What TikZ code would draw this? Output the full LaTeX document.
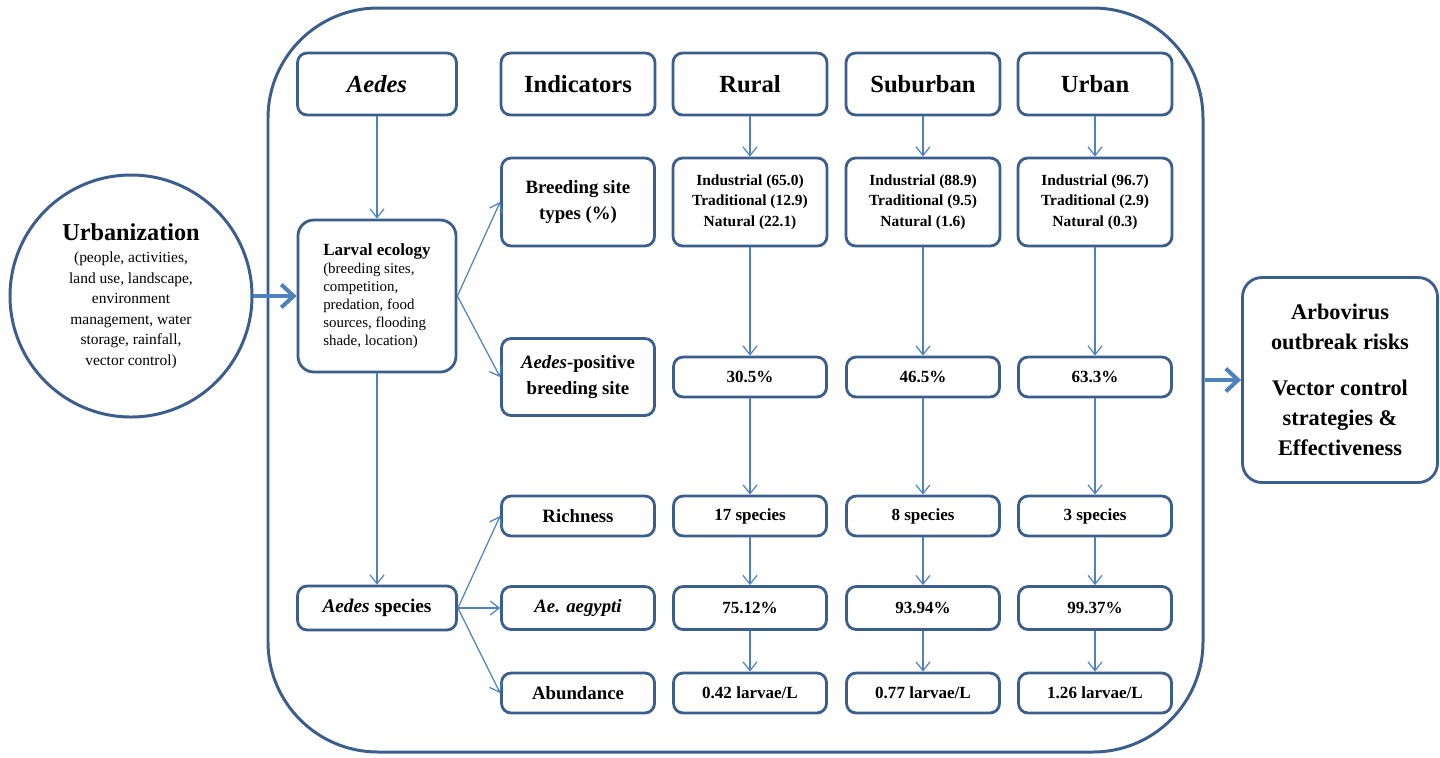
\documentclass[tikz,border=0pt]{standalone}
\usepackage{fontspec}
\setmainfont{Liberation Serif}
\usetikzlibrary{positioning, arrows.meta}
\definecolor{boxblue}{HTML}{3B5E8C}
\definecolor{lineblue}{HTML}{4F81BD}

\begin{document}
\begin{tikzpicture}[
    >={Straight Barb[length=5pt, width=8pt]},
    node distance=3cm,
    on grid,
    box/.style={draw=boxblue, line width=1.6pt, rounded corners=5.5pt, fill=white, align=center, inner sep=2pt, text=black},
    headbox/.style={box, minimum width=3.08cm, minimum height=1.24cm, font=\fontsize{14}{16}\selectfont\bfseries},
    indbox/.style={box, minimum width=3.06cm, minimum height=0.8cm, font=\fontsize{10.7}{14.8}\selectfont\bfseries},
    typebox/.style={box, minimum width=3.08cm, minimum height=1.76cm, font=\fontsize{8.8}{11.6}\selectfont\bfseries},
    valbox/.style={box, minimum width=3.06cm, minimum height=0.8cm, font=\fontsize{9.7}{12}\selectfont\bfseries},
    link/.style={->, lineblue, line width=0.7pt},
    biglink/.style={-{Straight Barb[length=7pt, width=13pt]}, lineblue, line width=2.3pt}
]
\useasboundingbox (0,0) rectangle (28.8,-15.14);

% 外框
\node[draw=boxblue, line width=1.7pt, rounded corners=2.2cm, minimum width=18.7cm, minimum height=14.88cm] (frame) at (14.71,-7.6) {};

% 表头
\node[headbox, minimum width=3.18cm, font=\fontsize{14}{16}\selectfont\bfseries\itshape] (aedes) at (7.54,-1.68) {Aedes};
\node[headbox, right=4.02cm of aedes] (ind) {Indicators};
\node[headbox, right=3.44cm of ind] (rural) {Rural};
\node[headbox, right=3.46cm of rural] (suburban) {Suburban};
\node[headbox, right=3.44cm of suburban] (urban) {Urban};

% 指标
\node[indbox, minimum height=1.76cm, below=2.36cm of ind] (types) {Breeding site\\types (\%)};
\node[indbox, minimum height=1.54cm, below=3.5cm of types] (positive) {\textit{Aedes}-positive\\breeding site};
\node[indbox, below=2.78cm of positive] (richness) {Richness};
\node[indbox, minimum height=0.86cm, below=1.84cm of richness] (aegypti) {\textit{Ae. aegypti}};
\node[indbox, below=1.7cm of aegypti] (abundance) {Abundance};

% 左列
\node[box, minimum width=3.16cm, minimum height=3.04cm, rounded corners=9pt, align=left, font=\fontsize{8.5}{10.2}\selectfont, below=4.24cm of aedes] (larval)
    {{\fontsize{9.7}{10.2}\selectfont\bfseries Larval ecology}\\(breeding sites,\\competition,\\predation, food\\sources, flooding\\shade, location)};
\node[box, minimum width=3.18cm, minimum height=0.88cm, font=\fontsize{11}{13}\selectfont\bfseries] (species) at (aedes |- aegypti) {\textit{Aedes} species};

% Rural
\node[typebox, below=2.36cm of rural] (r1) {Industrial (65.0)\\Traditional (12.9)\\Natural (22.1)};
\node[valbox, below=3.5cm of r1] (r2) {30.5\%};
\node[valbox, below=2.78cm of r2] (r3) {17 species};
\node[valbox, minimum height=0.86cm, below=1.84cm of r3] (r4) {75.12\%};
\node[valbox, below=1.7cm of r4] (r5) {0.42 larvae/L};

% Suburban
\node[typebox, below=2.36cm of suburban] (s1) {Industrial (88.9)\\Traditional (9.5)\\Natural (1.6)};
\node[valbox, below=3.5cm of s1] (s2) {46.5\%};
\node[valbox, below=2.78cm of s2] (s3) {8 species};
\node[valbox, minimum height=0.86cm, below=1.84cm of s3] (s4) {93.94\%};
\node[valbox, below=1.7cm of s4] (s5) {0.77 larvae/L};

% Urban
\node[typebox, below=2.36cm of urban] (u1) {Industrial (96.7)\\Traditional (2.9)\\Natural (0.3)};
\node[valbox, below=3.5cm of u1] (u2) {63.3\%};
\node[valbox, below=2.78cm of u2] (u3) {3 species};
\node[valbox, minimum height=0.86cm, below=1.84cm of u3] (u4) {99.37\%};
\node[valbox, below=1.7cm of u4] (u5) {1.26 larvae/L};

% 两侧
\node[circle, draw=boxblue, line width=1.7pt, minimum size=4.84cm, inner sep=0pt, align=center, font=\fontsize{8.8}{11.7}\selectfont, left=4.92cm of larval] (urbanization)
    {{\fontsize{13.8}{16}\selectfont\bfseries Urbanization}\\[1pt](people, activities,\\land use, landscape,\\environment\\management, water\\storage, rainfall,\\vector control)};
\node[box, minimum width=3.9cm, minimum height=4.1cm, rounded corners=11pt, font=\fontsize{12.7}{17}\selectfont\bfseries] (arbo) at (26.8,-7.6)
    {Arbovirus\\outbreak risks\\[9pt]Vector control\\strategies \&\\Effectiveness};

% 箭头
\path[link]
    (aedes) edge (larval)
    (larval) edge (species)
    (larval.east) edge (types.west)
    (larval.east) edge (positive.west)
    (species.east) edge (richness.west)
    (species.east) edge (aegypti.west)
    (species.east) edge (abundance.west)
    (rural) edge (r1) (r1) edge (r2) (r2) edge (r3) (r3) edge (r4) (r4) edge (r5)
    (suburban) edge (s1) (s1) edge (s2) (s2) edge (s3) (s3) edge (s4) (s4) edge (s5)
    (urban) edge (u1) (u1) edge (u2) (u2) edge (u3) (u3) edge (u4) (u4) edge (u5);
\path[biglink]
    (urbanization.east) edge (larval.west)
    (frame.east) edge (arbo.west);

\end{tikzpicture}
\end{document}
